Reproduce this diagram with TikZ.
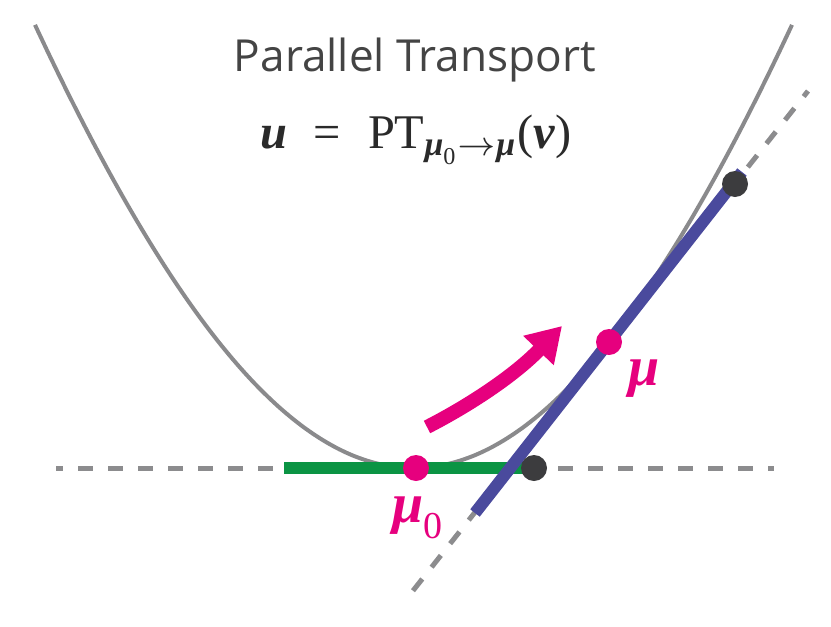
\documentclass[tikz,border=0pt]{standalone}
\usepackage{amsmath}
\usepackage{fontspec}
\setsansfont{Open Sans}
\newfontfamily\timesfont{Liberation Serif}
\usetikzlibrary{arrows.meta}
\definecolor{curvegray}{HTML}{8A8A8C}
\definecolor{dashgray}{HTML}{8C8C8E}
\definecolor{pinkmu}{HTML}{E6007E}
\definecolor{tanblue}{HTML}{4A4A9D}
\definecolor{tgreen}{HTML}{0B9444}
\definecolor{dotdark}{HTML}{3C3C3E}
\definecolor{titlegray}{HTML}{444444}
\definecolor{formulagray}{HTML}{2A2A2A}
\newcommand{\bimu}{{\timesfont\bfseries\itshape μ}}
\newcommand{\bivar}[1]{{\timesfont\bfseries\itshape #1}}
\tikzset{
  curveline/.style={draw=curvegray, line width=4pt},
  dashline/.style={draw=dashgray, line width=5pt, dash pattern=on 15pt off 15pt, dash phase=8pt},
  greenbar/.style={draw=tgreen, line width=12pt},
  bluebar/.style={draw=tanblue, line width=12pt},
  dotnode/.style={circle, inner sep=0pt, minimum size=26pt},
  pinkarrow/.style={draw=pinkmu, line width=14pt, -{Triangle[length=34pt,width=40pt]}},
  mulabel/.style={text=pinkmu, font=\fontsize{56}{56}\selectfont, inner sep=0pt}
}
\begin{document}
\begin{tikzpicture}[x=1pt,y=-1pt]
\useasboundingbox (0,0) rectangle (831,627);
% curve
\draw[curveline] plot[domain=35:792, samples=200] (\x, {468-2113*(sqrt(1+((\x-413.5)/556)^2)-1)});
% coordinates
\coordinate (hl) at (56,468);
\coordinate (hr) at (774,468);
\coordinate (tl) at (408,597);
\coordinate (tr) at (808,91);
\coordinate (gl) at (284,468);
\coordinate (bl) at (475,513);
\coordinate (br) at (742,172);
\coordinate (as) at (427,427);
\coordinate (ae) at (562,326);
% dashed lines
\draw[dashline] (hl) -- (hr);
\draw[dashline] (tr) -- (tl);
% dots
\node[dotnode] (hdot) at (534,468) {};
\draw[greenbar] (gl) -- (hdot.center);
\draw[bluebar] (bl) -- (br);
\node[dotnode, fill=dotdark] (hdot2) at (534,468) {};
\node[dotnode, fill=dotdark] (tdot) at (735,184) {};
\node[dotnode, fill=pinkmu] (mu0) at (416,468) {};
\node[dotnode, fill=pinkmu] (mu) at (609,342) {};
% arrow
\draw[pinkarrow] (as) .. controls (470,405) and (515,375) .. (ae);
% labels
\node[mulabel, anchor=base west] (mulab) at (628,385) {\bimu};
\node[mulabel, anchor=base west] (mu0lab) at (392,522) {\bimu\raisebox{-16pt}{\fontsize{38}{38}\selectfont\timesfont 0}};
% title
\node[anchor=base, text=titlegray, inner sep=0pt] (title) at (415,71) {\resizebox{362pt}{!}{\sffamily Parallel Transport}};
\node[anchor=base west, text=formulagray, inner sep=0pt] (formula) at (260,148) {\resizebox{311pt}{!}{$\text{\bivar{u}} \;\mathrel{\text{\timesfont =}}\; \text{\timesfont PT}_{\text{\bivar{μ}}_{\text{\timesfont 0}}\to\text{\bivar{μ}}}\text{\timesfont (\bivar{v})}$}};
\end{tikzpicture}
\end{document}
